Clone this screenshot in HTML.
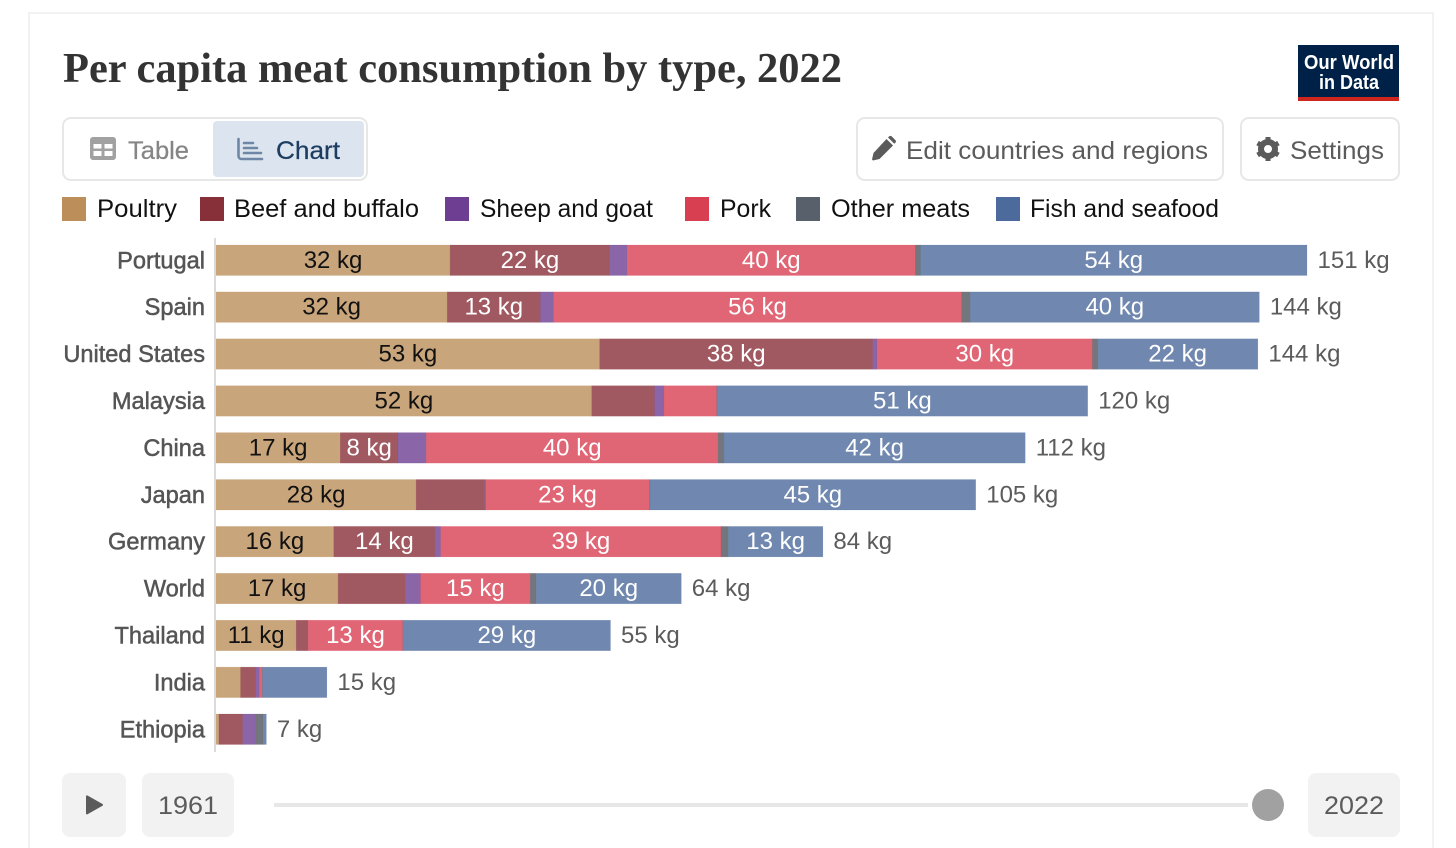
<!DOCTYPE html>
<html lang="en">
<head>
<meta charset="utf-8">
<title>Per capita meat consumption by type, 2022</title>
<style>
  html, body { margin: 0; padding: 0; background: #fff; width: 1456px; height: 848px; overflow: hidden; }
  svg { display: block; font-family: "Liberation Sans", sans-serif; }
  .ui { fill: #5b5b5b; font-size: 25px; }
  .leg { fill: #111; font-size: 25px; }
  .cat { fill: #555; font-size: 23.6px; stroke: #555; stroke-width: 0.5px; text-anchor: end; }
  .val { font-size: 24px; text-anchor: middle; }
  .tot { fill: #5b5b5b; font-size: 24px; }
</style>
</head>
<body>
<svg id="chart" width="1456" height="848" viewBox="0 0 1456 848" xmlns="http://www.w3.org/2000/svg">
  <path d="M29 848V13H1433V848" fill="none" stroke="#f2f2f2" stroke-width="2"/>

  <text x="63" y="82" font-family="'Liberation Serif', serif" font-weight="700" font-size="42" fill="#333" textLength="779" lengthAdjust="spacingAndGlyphs">Per capita meat consumption by type, 2022</text>

  <g>
    <rect x="1298" y="45" width="101" height="56" fill="#002147"/>
    <rect x="1298" y="97" width="101" height="4" fill="#ce261e"/>
    <text x="1304" y="69" font-size="20.5" font-weight="700" fill="#fff" textLength="90" lengthAdjust="spacingAndGlyphs">Our World</text>
    <text x="1319" y="89" font-size="20.5" font-weight="700" fill="#fff" textLength="60" lengthAdjust="spacingAndGlyphs">in Data</text>
  </g>

  <g>
    <rect x="63" y="118" width="304" height="62" rx="8" fill="#fff" stroke="#e7e7e7" stroke-width="2"/>
    <g>
      <path fill="#a1a1a1" fill-rule="evenodd" d="M93 137h20a3 3 0 0 1 3 3v17a3 3 0 0 1-3 3H93a3 3 0 0 1-3-3v-17a3 3 0 0 1 3-3ZM93.500 144v4.500h8V144ZM104.500 144v4.500h8V144ZM93.500 151v5h8v-5ZM104.500 151v5h8v-5Z"/>
      <text x="128" y="159" font-size="25" fill="#858585" stroke="#858585" stroke-width="0.25" textLength="61" lengthAdjust="spacingAndGlyphs">Table</text>
    </g>
    <g>
      <rect x="213" y="121" width="151" height="56" rx="4" fill="#dce5ef"/>
      <path fill="none" stroke="#6f87a6" stroke-width="2.600" stroke-linecap="round" d="M238.500 139v17a3 3 0 0 0 3 3h20.500M244 143h9M244 148h13M244 153h17"/>
      <text x="276" y="159" font-size="25" fill="#1d3d63" stroke="#1d3d63" stroke-width="0.25" textLength="64" lengthAdjust="spacingAndGlyphs">Chart</text>
    </g>
  </g>

  <g>
    <rect x="857" y="118" width="366" height="62" rx="8" fill="#fff" stroke="#e7e7e7" stroke-width="2"/>
    <path fill="#5b5b5b" d="M888 137.500l1-1a2 2 0 0 1 2.800 0l3.500 3.500a2 2 0 0 1 0 2.800l-1 1ZM886.500 139l6.500 6.500-13.500 13.500-6.500 1.500-1-1 1.500-6.500Z"/>
    <text x="906" y="159" class="ui" textLength="302" lengthAdjust="spacingAndGlyphs">Edit countries and regions</text>
  </g>

  <g>
    <rect x="1241" y="118" width="158" height="62" rx="8" fill="#fff" stroke="#e7e7e7" stroke-width="2"/>
    <g>
      <circle cx="1268" cy="149" r="7" fill="none" stroke="#5b5b5b" stroke-width="6"/>
      <path stroke="#5b5b5b" stroke-width="5" d="M1268 137v5M1268 156v5M1257.600 143l4.300 2.500M1274.100 152.500l4.300 2.500M1257.600 155l4.300-2.500M1274.100 145.500l4.300-2.500"/>
    </g>
    <text x="1290" y="159" class="ui" textLength="94" lengthAdjust="spacingAndGlyphs">Settings</text>
  </g>

  <g>
    <g>
      <rect x="62" y="197" width="24" height="24" fill="#BC8E5A"/>
      <text x="97" y="217" class="leg" textLength="80" lengthAdjust="spacingAndGlyphs">Poultry</text>
    </g>
    <g>
      <rect x="200" y="197" width="24" height="24" fill="#883039"/>
      <text x="234" y="217" class="leg" textLength="185" lengthAdjust="spacingAndGlyphs">Beef and buffalo</text>
    </g>
    <g>
      <rect x="445" y="197" width="24" height="24" fill="#6D3E91"/>
      <text x="480" y="217" class="leg" textLength="173" lengthAdjust="spacingAndGlyphs">Sheep and goat</text>
    </g>
    <g>
      <rect x="685" y="197" width="24" height="24" fill="#D84052"/>
      <text x="720" y="217" class="leg" textLength="51" lengthAdjust="spacingAndGlyphs">Pork</text>
    </g>
    <g>
      <rect x="796" y="197" width="24" height="24" fill="#58606B"/>
      <text x="831" y="217" class="leg" textLength="139" lengthAdjust="spacingAndGlyphs">Other meats</text>
    </g>
    <g>
      <rect x="996" y="197" width="24" height="24" fill="#4C6A9C"/>
      <text x="1030" y="217" class="leg" textLength="189" lengthAdjust="spacingAndGlyphs">Fish and seafood</text>
    </g>
  </g>

  <g id="plot"></g>

  <line x1="215" y1="238" x2="215" y2="752" stroke="#cfcfcf" stroke-width="1.500"/>

  <g>
    <g>
      <rect x="62" y="773" width="64" height="64" rx="8" fill="#f2f2f2"/>
      <path d="M86 796.500a1 1 0 0 1 1.500-1l15 8.500a1 1 0 0 1 0 1.800l-15 8.500a1 1 0 0 1-1.500-1Z" fill="#5b5b5b"/>
    </g>
    <g>
      <rect x="142" y="773" width="92" height="64" rx="8" fill="#f2f2f2"/>
      <text x="158" y="814" class="ui" textLength="60" lengthAdjust="spacingAndGlyphs">1961</text>
    </g>
    <rect x="274" y="803" width="974" height="4" fill="#e7e7e7"/>
    <circle cx="1268" cy="805" r="16" fill="#a1a1a1"/>
    <g>
      <rect x="1308" y="773" width="92" height="64" rx="8" fill="#f2f2f2"/>
      <text x="1324" y="814" class="ui" textLength="60" lengthAdjust="spacingAndGlyphs">2022</text>
    </g>
  </g>
</svg>

<script>
const categories = ["Portugal", "Spain", "United States", "Malaysia", "China", "Japan", "Germany", "World", "Thailand", "India", "Ethiopia"];
const poultry = [32.4, 32.0, 53.1, 52.0, 17.2, 27.7, 16.3, 16.9, 11.1, 3.4, 0.4];
const beef = [22.1, 12.9, 37.8, 8.7, 8.0, 9.5, 14.0, 9.3, 1.6, 2.1, 3.3];
const sheep = [2.4, 1.8, 0.6, 1.3, 3.9, 0.1, 0.8, 2.1, 0.05, 0.5, 1.8];
const pork = [39.9, 56.5, 29.8, 7.3, 40.4, 22.7, 38.8, 15.2, 13.1, 0.4, 0.02];
const otherMeats = [0.7, 1.2, 0.7, 0.05, 0.8, 0.05, 1.0, 0.8, 0.05, 0.05, 1.0];
const fish = [53.5, 40.0, 22.2, 51.3, 41.7, 45.1, 13.1, 20.1, 28.7, 8.9, 0.45];
const poultryLabels = ["32 kg", "32 kg", "53 kg", "52 kg", "17 kg", "28 kg", "16 kg", "17 kg", "11 kg", "", ""];
const beefLabels = ["22 kg", "13 kg", "38 kg", "", "8 kg", "", "14 kg", "", "", "", ""];
const porkLabels = ["40 kg", "56 kg", "30 kg", "", "40 kg", "23 kg", "39 kg", "15 kg", "13 kg", "", ""];
const fishLabels = ["54 kg", "40 kg", "22 kg", "51 kg", "42 kg", "45 kg", "13 kg", "20 kg", "29 kg", "", ""];
const emptyLabels = ["", "", "", "", "", "", "", "", "", "", ""];
const totalLabels = ["151 kg", "144 kg", "144 kg", "120 kg", "112 kg", "105 kg", "84 kg", "64 kg", "55 kg", "15 kg", "7 kg"];

const seriesList = [
  { key: "poultry", values: poultry, labels: poultryLabels, color: "#BC8E5A", text: "#111" },
  { key: "beef", values: beef, labels: beefLabels, color: "#883039", text: "#fff" },
  { key: "sheep", values: sheep, labels: emptyLabels, color: "#6D3E91", text: "#fff" },
  { key: "pork", values: pork, labels: porkLabels, color: "#D84052", text: "#fff" },
  { key: "other-meats", values: otherMeats, labels: emptyLabels, color: "#50545C", text: "#fff" },
  { key: "fish", values: fish, labels: fishLabels, color: "#4C6A9C", text: "#fff" }
];

const SVG_NS = "http://www.w3.org/2000/svg";
const plot = document.getElementById("plot");
const barHeight = 30.5;

function xScale(v) { return 216 + v * (1091 / 151); }
function yScale(i) { return 245 + i * 46.9; }

categories.forEach(function (cat, i) {
  const slug = cat.toLowerCase().replace(/\s+/g, "-");
  const rowY = yScale(i);

  const catText = document.createElementNS(SVG_NS, "text");
  
  
  catText.setAttribute("class", "cat");
  catText.setAttribute("x", 205);
  catText.setAttribute("y", rowY + barHeight / 2 + 8);
  catText.textContent = cat;
  plot.appendChild(catText);

  let running = 0;
  seriesList.forEach(function (s) {
    const v = s.values[i];
    const x0 = xScale(running);
    const x1 = xScale(running + v);
    running += v;

    const rect = document.createElementNS(SVG_NS, "rect");
    
    
    rect.setAttribute("x", x0);
    rect.setAttribute("y", rowY);
    rect.setAttribute("width", x1 - x0);
    rect.setAttribute("height", barHeight);
    rect.setAttribute("fill", s.color);
    rect.setAttribute("fill-opacity", "0.8");
    rect.setAttribute("stroke", s.color);
    rect.setAttribute("stroke-opacity", "0.25");
    rect.setAttribute("stroke-width", "0.5");
    plot.appendChild(rect);

    if (s.labels[i]) {
      const label = document.createElementNS(SVG_NS, "text");
      
      
      label.setAttribute("class", "val");
      label.setAttribute("x", (x0 + x1) / 2);
      label.setAttribute("y", rowY + barHeight / 2 + 7.5);
      label.setAttribute("fill", s.text);
      label.textContent = s.labels[i];
      plot.appendChild(label);
    }
  });

  const total = document.createElementNS(SVG_NS, "text");
  
  
  total.setAttribute("class", "tot");
  total.setAttribute("x", xScale(running) + 10.5);
  total.setAttribute("y", rowY + barHeight / 2 + 7.5);
  total.textContent = totalLabels[i];
  plot.appendChild(total);
});
</script>
</body>
</html>
